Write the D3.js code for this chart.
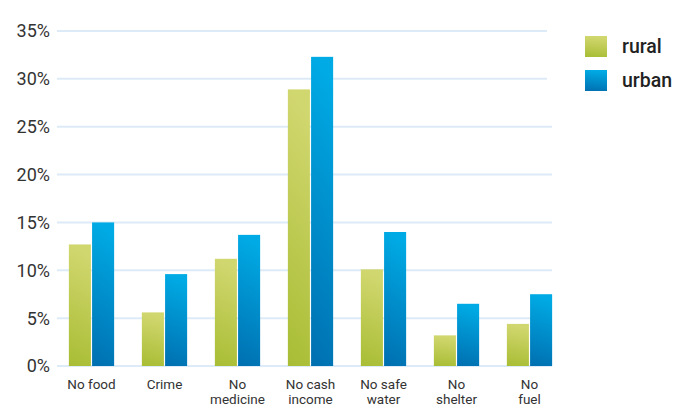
<!DOCTYPE html>
<html>
<head>
<meta charset="utf-8">
<script src="https://cdn.jsdelivr.net/npm/d3@7"></script>
<style>
  html, body { margin: 0; padding: 0; background: #fff; }
  svg { display: block; }
</style>
</head>
<body>
<svg id="chart" width="683" height="417"></svg>
<script>
const categories = [["No food"], ["Crime"], ["No", "medicine"], ["No cash", "income"], ["No safe", "water"], ["No", "shelter"], ["No", "fuel"]];
const series = ["rural", "urban"];
const rural = [12.7, 5.6, 11.2, 28.9, 10.1, 3.2, 4.4];
const urban = [15.0, 9.6, 13.7, 32.3, 14.0, 6.5, 7.5];
const yTicks = [0, 5, 10, 15, 20, 25, 30, 35];

const svg = d3.select("#chart");
const catKeys = categories.map(c => c.join(" "));
const values = { rural, urban };

const defs = svg.append("defs");
const grads = {
  rural: ["#d1d76f", "#a8bd34"],
  urban: ["#00aae4", "#006fb0"]
};
Object.entries(grads).forEach(([k, [c1, c2]]) => {
  const g = defs.append("linearGradient").attr("id", "g-" + k)
    .attr("x1", 0.1).attr("y1", 0).attr("x2", 0).attr("y2", 1);
  g.append("stop").attr("offset", "0%").attr("stop-color", c1);
  g.append("stop").attr("offset", "100%").attr("stop-color", c2);
});

const y = d3.scaleLinear().domain([0, 35]).range([366, 31]);
const x0 = d3.scaleBand().domain(catKeys).range([55, 566]).paddingInner(0.38).paddingOuter(0.19);
const x1 = d3.scaleBand().domain(series).range([0, x0.bandwidth()]).paddingInner(0.05);

// gridlines
svg.append("g").selectAll("line").data(yTicks).join("line")
  .attr("x1", 57).attr("x2", d => d >= 30 ? 547 : 552)
  .attr("y1", d => y(d)).attr("y2", d => y(d))
  .attr("stroke", "#dcebf7").attr("stroke-width", 2);

// y axis labels
svg.append("g").selectAll("text").data(yTicks).join("text")
  .attr("x", 50).attr("y", d => y(d)).attr("dy", "0.36em")
  .attr("text-anchor", "end")
  .attr("font-family", "Roboto, 'Liberation Sans', sans-serif")
  .attr("font-size", 18).attr("fill", "#333")
  .text(d => d + "%");

// bars
const groups = svg.append("g").selectAll("g").data(catKeys).join("g")
  .attr("transform", d => `translate(${x0(d)},0)`);
groups.selectAll("rect").data((d, i) => series.map(s => ({ s, v: values[s][i] }))).join("rect")
  .attr("x", d => x1(d.s)).attr("width", x1.bandwidth())
  .attr("y", d => y(d.v)).attr("height", d => y(0) - y(d.v))
  .attr("fill", d => `url(#g-${d.s})`);

// category labels
const lab = svg.append("g").selectAll("text").data(categories).join("text")
  .attr("x", (d, i) => x0(catKeys[i]) + x0.bandwidth() / 2)
  .attr("y", 389)
  .attr("text-anchor", "middle")
  .attr("font-family", "Roboto, 'Liberation Sans', sans-serif")
  .attr("font-size", 13.5).attr("fill", "#333");
lab.selectAll("tspan").data(d => d).join("tspan")
  .attr("x", function () { return this.parentNode.getAttribute("x"); })
  .attr("dy", (d, i) => i === 0 ? 0 : 14.5)
  .text(d => d);

// legend
const leg = svg.append("g").selectAll("g").data(series).join("g")
  .attr("transform", (d, i) => `translate(585,${36 + i * 34})`);
leg.append("rect").attr("width", 22).attr("height", 21).attr("fill", d => `url(#g-${d})`);
leg.append("text").attr("x", 37).attr("y", 17)
  .attr("font-family", "Roboto, sans-serif").attr("font-weight", 500)
  .attr("font-size", 19.5).attr("fill", "#222")
  .text(d => d);
</script>
</body>
</html>
